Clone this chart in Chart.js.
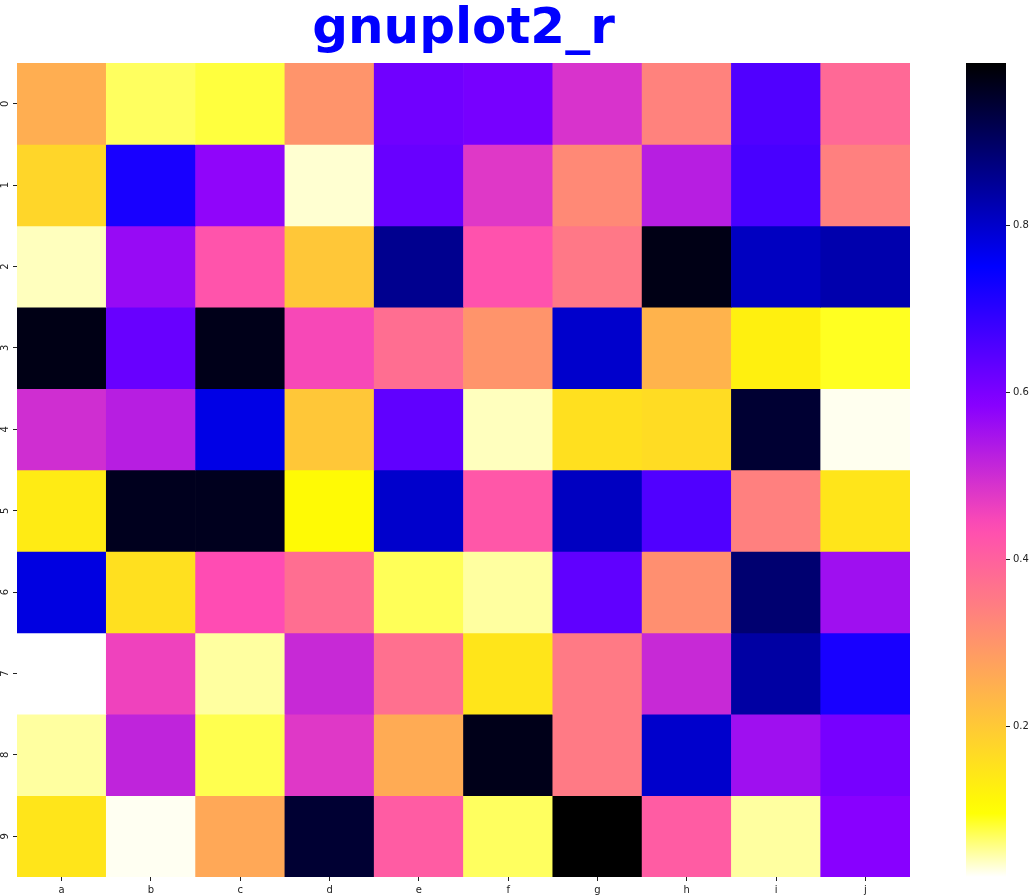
<!DOCTYPE html>
<html>
<head>
<meta charset="utf-8">
<script src="https://cdn.jsdelivr.net/npm/chart.js@4/dist/chart.umd.min.js"></script>
<style>
  html, body { margin: 0; padding: 0; background: #ffffff; }
  #wrap { position: relative; width: 1029px; height: 895px; background: #fff; }
  #main { position: absolute; left: 0; top: 0; }
  #cbar { position: absolute; left: 940px; top: 0; }
</style>
</head>
<body>
<div id="wrap">
  <canvas id="main" width="940" height="895"></canvas>
  <canvas id="cbar" width="89" height="895"></canvas>
</div>
<script>
// ---- data ----
const titleText = 'gnuplot2_r';
const colLabels = ['a', 'b', 'c', 'd', 'e', 'f', 'g', 'h', 'i', 'j'];
const rowLabels = ['0', '1', '2', '3', '4', '5', '6', '7', '8', '9'];
const row0 = [0.253, 0.068, 0.078, 0.302, 0.614, 0.605, 0.487, 0.336, 0.653, 0.385];
const row1 = [0.175, 0.722, 0.575, 0.033, 0.624, 0.478, 0.322, 0.527, 0.663, 0.341];
const row2 = [0.039, 0.566, 0.424, 0.204, 0.858, 0.429, 0.356, 0.975, 0.810, 0.829];
const row3 = [0.975, 0.624, 0.971, 0.448, 0.375, 0.302, 0.800, 0.243, 0.126, 0.087];
const row4 = [0.497, 0.527, 0.775, 0.204, 0.634, 0.039, 0.156, 0.165, 0.946, 0.024];
const row5 = [0.136, 0.966, 0.966, 0.107, 0.800, 0.419, 0.810, 0.653, 0.341, 0.146];
const row6 = [0.780, 0.156, 0.439, 0.375, 0.070, 0.048, 0.634, 0.312, 0.888, 0.556];
const row7 = [0.019, 0.458, 0.048, 0.507, 0.370, 0.146, 0.351, 0.507, 0.839, 0.722];
const row8 = [0.048, 0.517, 0.073, 0.478, 0.258, 0.971, 0.351, 0.800, 0.556, 0.605];
const row9 = [0.146, 0.023, 0.263, 0.946, 0.409, 0.068, 0.995, 0.409, 0.048, 0.585];
const colorbarTicks = [0.2, 0.4, 0.6, 0.8];

const values = [row0, row1, row2, row3, row4, row5, row6, row7, row8, row9];
const allVals = values.flat();
const vmin = Math.min(...allVals);
const vmax = Math.max(...allVals);

// gnuplot2 colormap (matplotlib rgb formulae 30,31,32), reversed
function clamp01(v) { return Math.max(0, Math.min(1, v)); }
function gnuplot2(x) {
  const r = clamp01(x / 0.32 - 0.78125);
  const g = clamp01(2 * x - 0.84);
  let b;
  if (x < 0.25) b = 4 * x;
  else if (x < 0.92) b = -2 * x + 1.84;
  else b = x / 0.08 - 11.5;
  b = clamp01(b);
  return [Math.round(r * 255), Math.round(g * 255), Math.round(b * 255)];
}
function gnuplot2_r(t) { return gnuplot2(1 - t); }
function colorFor(v) {
  const t = (v - vmin) / (vmax - vmin);
  const c = gnuplot2_r(clamp01(t));
  return 'rgb(' + c[0] + ',' + c[1] + ',' + c[2] + ')';
}

const tickFont = { family: "'DejaVu Sans', sans-serif", size: 10 };
const textColor = '#222';

// ---- heatmap ----
const datasets = values.map((rowVals, r) => ({
  label: rowLabels[r],
  data: rowVals.map(() => [r, r + 1]),
  backgroundColor: rowVals.map(colorFor),
  borderWidth: 0,
  barPercentage: 1.0,
  categoryPercentage: 1.0,
  grouped: false
}));

new Chart(document.getElementById('main'), {
  type: 'bar',
  data: { labels: colLabels, datasets: datasets },
  options: {
    responsive: false,
    animation: false,
    devicePixelRatio: 1,
    layout: { padding: { left: 0, right: 30, top: 0, bottom: 0 } },
    plugins: {
      legend: { display: false },
      tooltip: { enabled: false },
      title: {
        display: true,
        text: titleText,
        fullSize: false,
        color: '#0000ff',
        font: { family: "'Comic Sans MS', 'DejaVu Sans', sans-serif", size: 50, weight: 'bold', lineHeight: 1.2 },
        padding: { top: 0, bottom: 3 }
      }
    },
    scales: {
      x: {
        type: 'category',
        offset: true,
        grid: { display: true, drawOnChartArea: false, drawTicks: true, tickLength: 4, offset: false, color: textColor },
        border: { display: false },
        ticks: { font: tickFont, color: textColor, padding: 3, maxRotation: 0, minRotation: 0 },
        afterFit: (s) => { s.height = 18; }
      },
      y: {
        type: 'linear',
        min: 0,
        max: rowLabels.length,
        reverse: true,
        grid: { display: true, drawOnChartArea: false, drawTicks: true, tickLength: 4, color: textColor },
        border: { display: false },
        afterBuildTicks: (s) => { s.ticks = rowLabels.map((_, i) => ({ value: i + 0.5 })); },
        ticks: {
          font: tickFont, color: textColor, padding: 4,
          minRotation: 90, maxRotation: 90, crossAlign: 'center',
          callback: (v, i) => rowLabels[i]
        },
        afterFit: (s) => { s.width = 17; }
      }
    }
  }
});

// ---- colorbar ----
function cbarGradient(ctx) {
  const chart = ctx.chart;
  const area = chart.chartArea;
  if (!area) return '#888';
  const g = chart.ctx.createLinearGradient(0, area.bottom, 0, area.top);
  const n = 64;
  for (let i = 0; i <= n; i++) {
    const t = i / n;
    const c = gnuplot2_r(t);
    g.addColorStop(t, 'rgb(' + c[0] + ',' + c[1] + ',' + c[2] + ')');
  }
  return g;
}

new Chart(document.getElementById('cbar'), {
  type: 'bar',
  data: {
    labels: [''],
    datasets: [{
      data: [[vmin, vmax]],
      backgroundColor: cbarGradient,
      borderWidth: 0,
      barPercentage: 1.0,
      categoryPercentage: 1.0
    }]
  },
  options: {
    responsive: false,
    animation: false,
    devicePixelRatio: 1,
    layout: { padding: { left: 26, right: 0, top: 63, bottom: 18 } },
    plugins: { legend: { display: false }, tooltip: { enabled: false }, title: { display: false } },
    scales: {
      x: { display: false },
      y: {
        type: 'linear',
        position: 'right',
        min: vmin,
        max: vmax,
        grid: { display: true, drawOnChartArea: false, drawTicks: true, tickLength: 4, color: textColor },
        border: { display: false },
        afterBuildTicks: (s) => { s.ticks = colorbarTicks.map(v => ({ value: v })); },
        ticks: { font: tickFont, color: textColor, padding: 3, callback: (v) => v.toFixed(1) },
        afterFit: (s) => { s.width = 23; }
      }
    }
  }
});
</script>
</body>
</html>
